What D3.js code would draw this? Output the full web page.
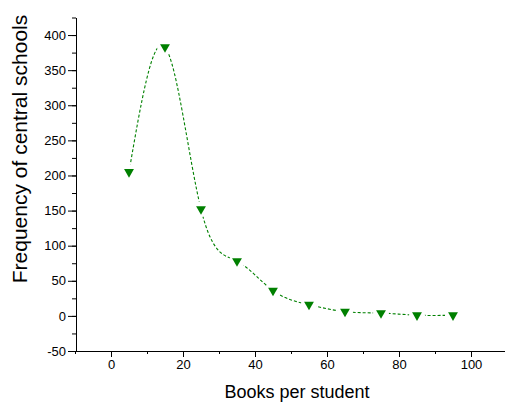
<!DOCTYPE html>
<html>
<head>
<meta charset="utf-8">
<script src="https://cdn.jsdelivr.net/npm/d3@7"></script>
<style>
  body { margin: 0; background: #fff; }
  svg { font-family: Arial, "Liberation Sans", sans-serif; }
  .axis path, .axis line { stroke: #000; }
  .axis text { font-size: 13px; fill: #000; }
</style>
</head>
<body>
<svg id="chart" width="505" height="406"></svg>
<script>
var books = [5, 15, 25, 35, 45, 55, 65, 75, 85, 95];
var frequency = [205, 383, 152, 78, 36, 16, 6, 4, 1, 1];
var xTicks = [0, 20, 40, 60, 80, 100];
var yTicks = [-50, 0, 50, 100, 150, 200, 250, 300, 350, 400];

var svg = d3.select('#chart');

var x = d3.scaleLinear().domain([-10, 110]).range([75, 507]);
var y = d3.scaleLinear().domain([-50, 425]).range([351, 17.5]);

// plain hyphen for negatives, like the original
var fmt = d => String(d);

// minor ticks first so major ones sit on top
svg.append('g')
  .attr('class', 'axis')
  .attr('transform', 'translate(0,351)')
  .call(d3.axisBottom(x).tickValues(d3.range(-10, 111, 10)).tickSize(3).tickFormat(''))
  .call(g => g.select('.domain').remove());

svg.append('g')
  .attr('class', 'axis')
  .attr('transform', 'translate(76,0)')
  .call(d3.axisLeft(y).tickValues(d3.range(-50, 426, 25)).tickSize(4).tickFormat(''))
  .call(g => g.select('.domain').remove());

svg.append('g')
  .attr('class', 'axis')
  .attr('transform', 'translate(0,351)')
  .call(d3.axisBottom(x).tickValues(xTicks).tickFormat(fmt).tickSize(6).tickSizeOuter(0).tickPadding(3));

svg.append('g')
  .attr('class', 'axis')
  .attr('transform', 'translate(76,0)')
  .call(d3.axisLeft(y).tickValues(yTicks).tickFormat(fmt).tickSize(8).tickSizeOuter(0).tickPadding(2));

// gaps around markers
var mask = svg.append('defs').append('mask').attr('id', 'gap');
mask.append('rect').attr('width', 505).attr('height', 406).attr('fill', '#fff');
mask.selectAll('circle')
  .data(books)
  .enter()
  .append('circle')
  .attr('cx', d => x(d))
  .attr('cy', (d, i) => y(frequency[i]))
  .attr('r', 8)
  .attr('fill', '#000');

var line = d3.line()
  .x(d => x(d))
  .y((d, i) => y(frequency[i]))
  .curve(d3.curveNatural);

svg.append('path')
  .datum(books)
  .attr('d', line)
  .attr('mask', 'url(#gap)')
  .attr('fill', 'none')
  .attr('stroke', '#008000')
  .attr('stroke-width', 1.1)
  .attr('stroke-dasharray', '3,2');

svg.selectAll('.pt')
  .data(books)
  .enter()
  .append('path')
  .attr('class', 'pt')
  .attr('d', d3.symbol(d3.symbolTriangle, 42))
  .attr('transform', (d, i) => 'translate(' + x(d) + ',' + y(frequency[i]) + ') rotate(180)')
  .attr('fill', '#008000');

svg.append('text')
  .attr('x', 297)
  .attr('y', 398)
  .attr('text-anchor', 'middle')
  .style('font-size', '18px')
  .text('Books per student');

svg.append('text')
  .attr('transform', 'translate(27,149) rotate(-90)')
  .attr('text-anchor', 'middle')
  .style('font-size', '21px')
  .text('Frequency of central schools');
</script>
</body>
</html>
